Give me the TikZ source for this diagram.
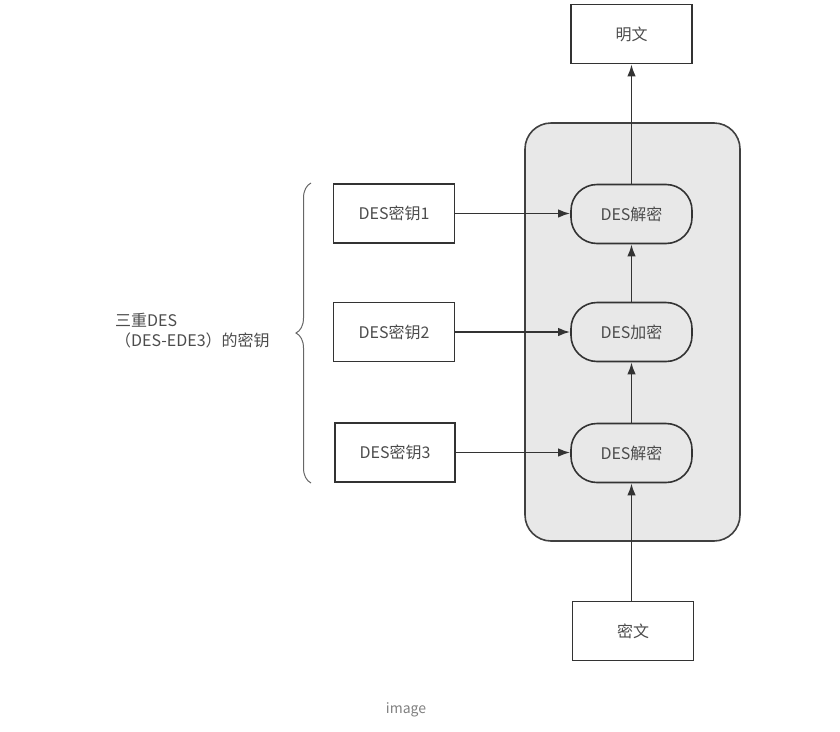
\documentclass[tikz,border=0pt]{standalone}
\usepackage{fontspec}
\setmainfont{Noto Sans CJK SC}
\usetikzlibrary{arrows.meta,decorations.pathreplacing,shapes.misc}
\begin{document}
\begin{tikzpicture}[x=1pt,y=-1pt,
  txt/.style={font=\fontsize{16}{20}\selectfont, text=black!70},
  plainbox/.style={txt,draw=black!80,line width=1.6pt,minimum width=121pt,minimum height=59pt,inner sep=0pt},
  procbox/.style={txt,draw=black!80,line width=1.6pt,rounded corners=26pt,minimum width=121pt,minimum height=59pt,inner sep=0pt},
  arr/.style={draw=black!80,line width=1.8pt,-{Latex[length=12pt,width=8.5pt]}}]
\useasboundingbox (0,0) rectangle (840,731);
\node[draw=black!75,line width=1.6pt,fill=black!9,rounded corners=26pt,minimum width=215pt,minimum height=418pt,inner sep=0pt] (panel) at (632.5,332) {};
\node[plainbox] (pt) at (631.5,34) {明文};
\node[plainbox] (ct) at (633,631) {密文};
\node[procbox] (d1) at (631.5,214) {DES解密};
\node[procbox] (e2) at (631.5,332) {DES加密};
\node[procbox] (d3) at (631.5,453) {DES解密};
\node[plainbox] (k1) at (394,213.5) {DES密钥1};
\node[plainbox] (k2) at (394,332) {DES密钥2};
\node[plainbox,minimum width=120pt] (k3) at (395,452.5) {DES密钥3};
\draw[arr] (ct.north -| d3) -- (d3);
\draw[arr] (d3) -- (e2);
\draw[arr] (e2) -- (d1);
\draw[arr] (d1) -- (pt);
\draw[arr] (k1.east) -- (k1.east -| d1.west);
\draw[arr] (k2.east) -- (k2.east -| e2.west);
\draw[arr] (k3.east) -- (k3.east -| d3.west);
\coordinate (bt) at (311,183);
\coordinate (bb) at (311,483);
\draw[black!60,line width=1pt,decorate,decoration={brace,amplitude=15pt,aspect=0.5}] (bb) -- (bt);
\node[txt,align=left,anchor=west,inner sep=0pt] (lbl) at (115,331) {三重DES\\（DES-EDE3）的密钥};
\node[font=\fontsize{14}{16}\selectfont,text=black!50] (cap) at (406,710) {image};
\end{tikzpicture}
\end{document}
